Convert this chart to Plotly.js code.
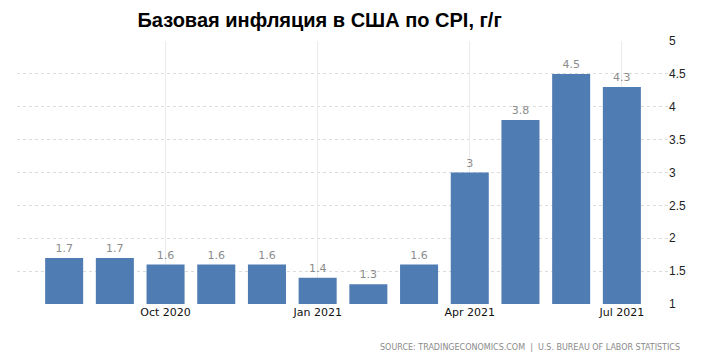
<!DOCTYPE html>
<html><head><meta charset="utf-8">
<script src="https://cdn.plot.ly/plotly-3.0.1.min.js"></script>
<style>html,body{margin:0;padding:0;background:#fff}#chart{width:704px;height:358px}</style>
</head><body><div id="chart"></div>
<script>
const months = ['Aug 2020','Sep 2020','Oct 2020','Nov 2020','Dec 2020','Jan 2021','Feb 2021','Mar 2021','Apr 2021','May 2021','Jun 2021','Jul 2021'];
const values = [1.7, 1.7, 1.6, 1.6, 1.6, 1.4, 1.3, 1.6, 3, 3.8, 4.5, 4.3];
const tickMonths = ['Oct 2020','Jan 2021','Apr 2021','Jul 2021'];
const yTicks = [1, 1.5, 2, 2.5, 3, 3.5, 4, 4.5, 5];
const titleText = 'Базовая инфляция в США по CPI, г/г';
const sourceText = 'SOURCE: TRADINGECONOMICS.COM  |  U.S. BUREAU OF LABOR STATISTICS';
const baseline = 1;

const idx = months.map((m, i) => i);
const trace = {
  type: 'bar', x: idx, y: values.map(v => v - baseline), base: baseline,
  marker: {color: '#4f7cb3'}, width: 0.75,
  text: values.map(String), textposition: 'outside',
  textfont: {family: 'DejaVu Sans, sans-serif', size: 11, color: '#8c8c8c'},
  cliponaxis: false, hoverinfo: 'skip'
};

const layout = {
  width: 704, height: 358,
  margin: {l: 17, r: 36, t: 41, b: 54},
  paper_bgcolor: '#fff', plot_bgcolor: '#fff',
  showlegend: false,
  title: {text: '<b>' + titleText + '</b>', xref: 'container', x: 0.454, xanchor: 'center', y: 0.945, yanchor: 'middle',
          font: {family: 'Liberation Sans, Arial, sans-serif', size: 20, color: '#000'}},
  xaxis: {
    range: [-0.93, 11.91], tickmode: 'array',
    tickvals: tickMonths.map(m => months.indexOf(m)), ticktext: tickMonths,
    showgrid: true, gridcolor: '#ebebeb', gridwidth: 1,
    zeroline: false, showline: false, ticks: '',
    tickfont: {family: 'DejaVu Sans, sans-serif', size: 11, color: '#111'}
  },
  yaxis: {
    side: 'right', range: [1, 5], tickmode: 'array',
    tickvals: yTicks, ticktext: yTicks.map(String),
    showgrid: true, gridcolor: '#dcdcdc', griddash: 'dot', gridwidth: 1,
    zeroline: false, showline: false, ticks: '',
    tickfont: {family: 'Liberation Sans, Arial, sans-serif', size: 12, color: '#222'}
  },
  annotations: [{
    text: sourceText, xref: 'paper', yref: 'paper', x: 1.021, y: -0.165,
    xanchor: 'right', yanchor: 'middle', showarrow: false,
    font: {family: 'DejaVu Sans, sans-serif', size: 8, color: '#8a8a8a'}
  }]
};
Plotly.newPlot('chart', [trace], layout, {displayModeBar: false, staticPlot: true});
</script></body></html>
